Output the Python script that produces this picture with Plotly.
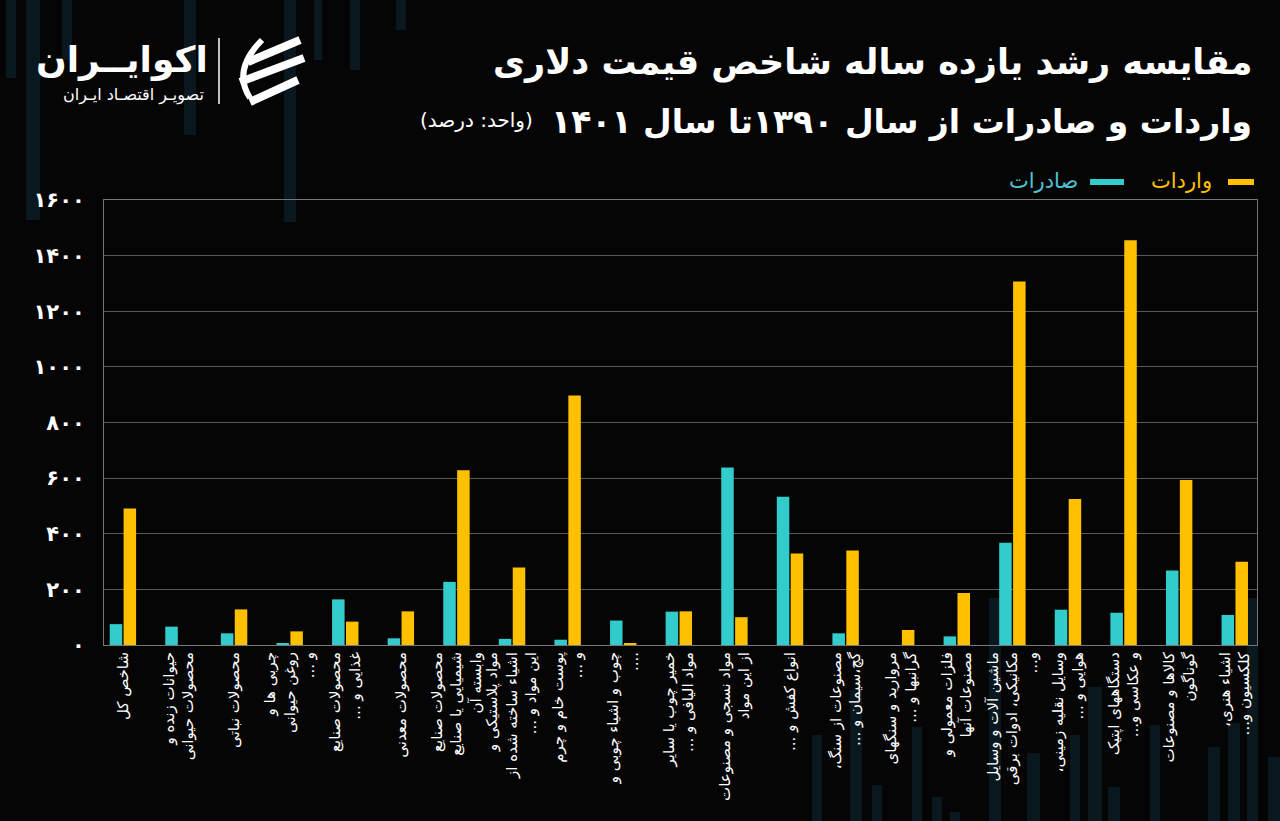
import plotly.graph_objects as go

# داده ها (درصد رشد ۱۳۹۰ تا ۱۴۰۱)
categories = [
    "شاخص کل",
    "حیوانات زنده و<br>محصولات حیوانی",
    "محصولات نباتی",
    "چربی ها و<br>روغن حیوانی<br>و ...",
    "محصولات صنایع<br>غذایی و ...",
    "محصولات معدنی",
    "محصولات صنایع<br>شیمیایی یا صنایع<br>وابسته آن",
    "مواد پلاستیکی و<br>اشیاء ساخته شده از<br>این مواد و ...",
    "پوست خام و چرم<br>و ...",
    "چوب و اشیاء چوبی و<br>....",
    "خمیر چوب یا سایر<br>مواد الیافی و ...",
    "مواد نسجی و مصنوعات<br>از این مواد",
    "انواع کفش و ...",
    "مصنوعات از سنگ،<br>گچ،سیمان و ...",
    "مروارید و سنگهای<br>گرانبها و ...",
    "فلزات معمولی و<br>مصنوعات آنها",
    "ماشین آلات و وسایل<br>مکانیکی، ادوات برقی<br>و...",
    "وسایل نقلیه زمینی،<br>هوایی و ...",
    "دستگاههای اپتیک<br>و عکاسی و...",
    "کالاها و مصنوعات<br>گوناگون",
    "اشیاء هنری،<br>کلکسیون و...",
]
exports = [75, 66, 42, 6, 164, 24, 227, 22, 19, 88, 120, 638, 533, 42, 0, 31, 368, 127, 116, 268, 108]
imports = [491, 0, 128, 49, 84, 121, 628, 279, 897, 4, 121, 100, 329, 340, 54, 187, 1307, 525, 1455, 593, 299]

y_ticks = [0, 200, 400, 600, 800, 1000, 1200, 1400, 1600]
y_tick_labels = ["۰", "۲۰۰", "۴۰۰", "۶۰۰", "۸۰۰", "۱۰۰۰", "۱۲۰۰", "۱۴۰۰", "۱۶۰۰"]

TEAL = "#33CCCC"
GOLD = "#FFC000"
FONT = "DejaVu Sans"
RLM = "\u200f"

# ناحیه رسم به پیکسل
L, R, T, B = 104, 1257, 200, 645


def px(x):
    return (x - L) / (R - L)


def py(y):
    return (B - y) / (B - T)


def rtl(s):
    # هر خط را راست به چپ نگه دار
    return "<br>".join(RLM + part + RLM for part in s.split("<br>"))


fig = go.Figure()
fig.add_trace(go.Bar(x=list(range(len(categories))), y=exports, name="صادرات",
                     marker_color=TEAL, marker_line_width=0))
fig.add_trace(go.Bar(x=list(range(len(categories))), y=imports, name="واردات",
                     marker_color=GOLD, marker_line_width=0))

shapes = []

# نوارهای تزئینی پس زمینه
stripes = [
    (6, 0, 16, 78), (26, 0, 40, 220), (62, 0, 72, 60), (184, 0, 196, 135),
    (284, 0, 296, 222), (314, 0, 322, 60), (350, 0, 360, 70), (396, 0, 406, 30),
    (812, 735, 822, 821), (850, 690, 862, 821), (872, 785, 882, 821),
    (912, 727, 922, 821), (932, 797, 942, 821), (950, 812, 960, 821),
    (989, 598, 1001, 821), (1027, 753, 1040, 821), (1070, 735, 1080, 821),
    (1088, 687, 1102, 821), (1108, 787, 1120, 821), (1150, 725, 1160, 821),
    (1208, 747, 1220, 821), (1228, 723, 1240, 821), (1247, 598, 1258, 821),
    (1268, 757, 1280, 821),
]
for x0, y0, x1, y1 in stripes:
    shapes.append(dict(type="rect", xref="paper", yref="paper", layer="below",
                       x0=px(x0), x1=px(x1), y0=py(y1), y1=py(y0),
                       fillcolor="#08181e", line_width=0))

# لوگو
shapes.append(dict(type="line", xref="paper", yref="paper",
                   x0=px(219), x1=px(219), y0=py(38), y1=py(104),
                   line=dict(color="white", width=1.5)))
shapes.append(dict(type="path", xref="paper", yref="paper",
                   path="M %f %f Q %f %f %f %f" % (px(250), py(98), px(232), py(70), px(262), py(40)),
                   line=dict(color="white", width=6)))
for (x0, y0, x1, y1) in [(248, 62, 300, 40), (240, 82, 304, 58), (250, 102, 298, 80)]:
    shapes.append(dict(type="line", xref="paper", yref="paper",
                       x0=px(x0), x1=px(x1), y0=py(y0), y1=py(y1),
                       line=dict(color="white", width=8)))

# راهنما
shapes.append(dict(type="line", xref="paper", yref="paper",
                   x0=px(1228), x1=px(1254), y0=py(182), y1=py(182),
                   line=dict(color=GOLD, width=6)))
shapes.append(dict(type="line", xref="paper", yref="paper",
                   x0=px(1090), x1=px(1124), y0=py(182), y1=py(182),
                   line=dict(color=TEAL, width=6)))

annotations = [
    dict(text="<b>" + rtl("مقایسه رشد یازده ساله شاخص قیمت دلاری") + "</b>", x=px(1254), y=py(62),
         font=dict(size=35, color="white", family=FONT)),
    dict(text="<b>" + rtl("واردات و صادرات از سال ۱۳۹۰تا سال ۱۴۰۱") + "</b>", x=px(1254), y=py(122),
         font=dict(size=33, color="white", family=FONT)),
    dict(text=rtl("(واحد: درصد)"), x=px(535), y=py(120),
         font=dict(size=20, color="white", family=FONT)),
    dict(text=rtl("واردات"), x=px(1214), y=py(181),
         font=dict(size=21, color=GOLD, family=FONT)),
    dict(text=rtl("صادرات"), x=px(1080), y=py(181),
         font=dict(size=21, color="#4FC3D3", family=FONT)),
    dict(text="<b>" + rtl("اکوایــران") + "</b>", x=px(210), y=py(60),
         font=dict(size=36, color="white", family=FONT)),
    dict(text=rtl("تصویـر اقتصـاد ایـران"), x=px(206), y=py(95),
         font=dict(size=16, color="white", family=FONT)),
]
for a in annotations:
    a.update(xref="paper", yref="paper", xanchor="right", yanchor="middle", showarrow=False)

fig.update_layout(
    width=1280, height=821,
    margin=dict(l=L, r=1280 - R, t=T, b=821 - B),
    paper_bgcolor="#050505",
    plot_bgcolor="rgba(0,0,0,0)",
    barmode="group",
    bargap=0.5,
    bargroupgap=0.1,
    showlegend=False,
    font=dict(family=FONT, color="white"),
    shapes=shapes,
    annotations=annotations,
)
fig.update_xaxes(
    range=[-0.34, 20.4],
    tickvals=list(range(len(categories))),
    ticktext=[rtl(c) for c in categories],
    tickangle=-90,
    tickfont=dict(size=15, color="white", family=FONT),
    showgrid=False,
    showline=True, mirror=True, linecolor="#777777", linewidth=1,
    ticks="",
    automargin=False,
)
fig.update_yaxes(
    range=[0, 1600],
    tickvals=y_ticks,
    ticktext=y_tick_labels,
    tickfont=dict(size=21, color="white", family=FONT, weight="bold"),
    showgrid=True, gridcolor="#5a5a5a", gridwidth=1,
    showline=True, mirror=True, linecolor="#777777", linewidth=1,
    zeroline=False,
    ticks="",
    ticklabelstandoff=14,
    automargin=False,
)

fig.write_html("out.html", config={"displayModeBar": False},
               post_script="document.body.style.margin='0';document.body.style.background='#050505';")
